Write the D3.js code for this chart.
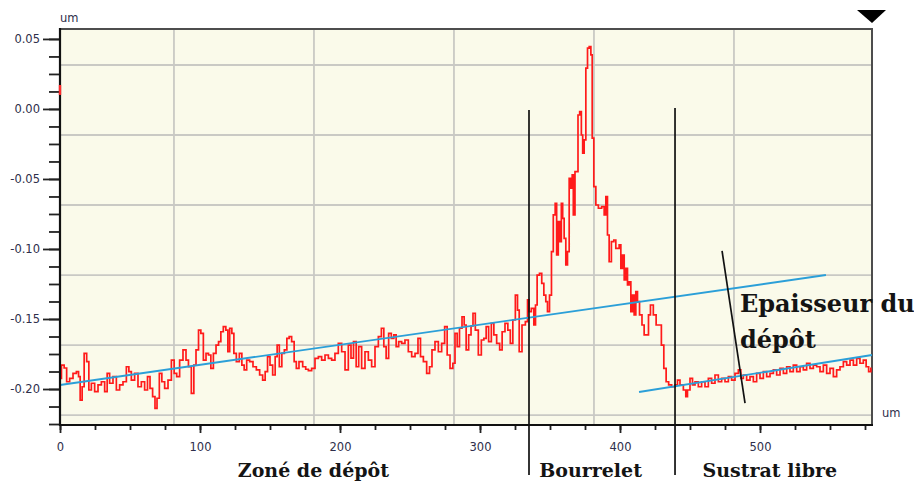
<!DOCTYPE html>
<html>
<head>
<meta charset="utf-8">
<script src="https://cdn.jsdelivr.net/npm/d3@7"></script>
<style>
  html, body { margin: 0; padding: 0; background: #ffffff; }
  svg { display: block; }
</style>
</head>
<body>
<svg id="chart" width="914" height="484"></svg>
<script>
// Surface profile across the deposit edge (positions in um, heights in um)
const profileUm = [
  0, 2.1, 3.8, 5.7, 8.1, 10.5, 12.9, 13.6, 15.2, 16.4, 18.1, 20.0, 21.2, 23.6, 25.9, 28.4,
  30.7, 33.1, 34.3, 36.6, 39.1, 41.4, 43.8, 46.2, 48.6, 49.8, 52.1, 54.5, 56.9, 59.3, 61.6,
  63.4, 65.2, 67.1, 68.6, 70.0, 71.9, 73.6, 75.9, 78.4, 80.7, 82.4, 84.3, 86.6, 89.1, 90.9,
  92.6, 95.0, 96.2, 98.1, 99.8, 101.4, 103.4, 105.2, 106.9, 108.6, 110.5, 112.4, 114.1,
  115.7, 117.6, 119.3, 120.5, 121.9, 123.6, 124.8, 127.1, 129.1, 130.7, 132.4, 134.3, 136.6,
  139.1, 141.4, 143.8, 145.7, 147.4, 149.1, 150.9, 152.9, 154.5, 155.7, 157.6, 159.3, 161.2,
  162.9, 164.5, 166.4, 168.1, 169.5, 171.9, 174.8,
  176.2, 178.6, 180.9, 183.4, 185.7, 188.1, 190.5, 192.9, 195.2, 197.6, 200.0, 202.4, 204.8,
  207.1, 208.6, 210.7, 212.4, 214.3, 216.6, 219.1, 221.4, 223.8, 226.2, 228.6, 230.5, 232.1,
  233.8, 235.7, 237.6, 239.3, 240.9, 242.9, 245.2, 247.6, 250.0, 252.4, 254.8, 256.6, 258.4,
  260.7, 263.1, 264.8, 266.6, 269.1, 271.4, 273.8, 275.7, 277.4, 279.8, 281.4, 282.9, 284.5,
  286.2, 288.1, 289.3, 290.9, 292.9, 294.3, 295.7, 297.6, 300.0, 301.9, 303.6, 305.2, 307.1,
  309.1, 310.7, 313.1, 315.0, 316.6, 319.1, 320.7, 322.6, 324.3, 326.2, 327.4,
  328.6, 331.4, 333.4, 334.5, 335.7, 337.6, 339.3, 340.0, 341.6, 343.4, 344.8, 346.4, 347.6,
  348.8, 350.5, 351.6, 353.1, 354.3, 355.2, 356.6, 357.6, 358.6, 359.5, 360.7, 361.9, 363.1,
  364.3, 365.5, 366.2, 367.1, 368.6, 369.5, 370.5, 371.9, 372.9, 373.8, 375.0, 376.2, 377.4,
  378.6, 379.8, 380.5, 382.1, 383.4, 385.7, 388.1, 389.3, 390.5, 391.6, 392.9, 394.8, 396.4,
  397.6, 398.8, 400.0, 401.2, 402.4, 403.6, 404.8, 405.9, 407.1, 408.4, 409.5, 410.7, 411.9,
  413.1, 414.8, 416.6, 417.9, 419.8, 420.9, 422.6, 425.0, 426.6, 428.6, 430.5, 432.1, 433.8,
  435.7, 438.1, 440.5,
  441.6, 444.1, 446.4, 447.6, 448.8, 451.2, 452.4, 454.8, 457.1, 459.5, 461.9, 464.3, 466.6,
  469.1, 471.4, 473.8, 476.2, 478.6, 480.9, 483.4, 485.7, 486.9, 489.3, 491.6, 494.1, 496.4,
  498.8, 501.2, 503.6, 505.9, 508.4, 510.7, 513.1, 515.5, 517.9, 520.2, 522.6, 525.0, 527.4,
  529.8, 532.1, 534.5, 536.9, 539.3, 541.6, 544.1, 546.4, 548.8, 551.2, 553.6, 555.9, 558.4,
  560.7, 563.1, 565.5, 567.9, 570.2, 572.6, 575.0, 576.6, 578.6, 579.8
];
const profileHeight = [
  -0.1924, -0.1829, -0.1850, -0.1948, -0.1924, -0.1888, -0.1876, -0.1912, -0.2079, -0.1984,
  -0.1745, -0.1805, -0.2007, -0.1959, -0.2019, -0.1971, -0.1948, -0.2019, -0.1888, -0.1959,
  -0.1912, -0.2007, -0.1971, -0.1948, -0.1841, -0.1876, -0.1936, -0.1888, -0.1984, -0.1948,
  -0.2007, -0.1912, -0.1995, -0.2055, -0.2138, -0.2066, -0.1888, -0.1948, -0.1995, -0.1936,
  -0.1793, -0.1888, -0.1912, -0.1793, -0.1721, -0.1793, -0.1841, -0.2031, -0.1829, -0.1721,
  -0.1579, -0.1602, -0.1793, -0.1745, -0.1757, -0.1852, -0.1745, -0.1686, -0.1662, -0.1591,
  -0.1555, -0.1579, -0.1734, -0.1566, -0.1602, -0.1745, -0.1805, -0.1745, -0.1829, -0.1864,
  -0.1793, -0.1805, -0.1841, -0.1864, -0.1900, -0.1936, -0.1876, -0.1769, -0.1829, -0.1900,
  -0.1769, -0.1686, -0.1841, -0.1745, -0.1721, -0.1638, -0.1626, -0.1662, -0.1805, -0.1852,
  -0.1805, -0.1841,
  -0.1859, -0.1869, -0.1852, -0.1781, -0.1769, -0.1793, -0.1757, -0.1781, -0.1793, -0.1745,
  -0.1674, -0.1734, -0.1864, -0.1686, -0.1779, -0.1662, -0.1841, -0.1698, -0.1852, -0.1734,
  -0.1793, -0.1841, -0.1698, -0.1626, -0.1566, -0.1698, -0.1781, -0.1602, -0.1638, -0.1614,
  -0.1698, -0.1662, -0.1674, -0.1650, -0.1734, -0.1769, -0.1745, -0.1638, -0.1769, -0.1805,
  -0.1888, -0.1841, -0.1721, -0.1662, -0.1734, -0.1674, -0.1555, -0.1757, -0.1852, -0.1816,
  -0.1602, -0.1698, -0.1566, -0.1484, -0.1543, -0.1721, -0.1614, -0.1550, -0.1459, -0.1579,
  -0.1757, -0.1650, -0.1638, -0.1555, -0.1662, -0.1531, -0.1614, -0.1674, -0.1721, -0.1591,
  -0.1531, -0.1579, -0.1674, -0.1507, -0.1329, -0.1436,
  -0.1734, -0.1543, -0.1519, -0.1364, -0.1448, -0.1424, -0.1543, -0.1400, -0.1186, -0.1174,
  -0.1245, -0.1329, -0.1376, -0.1448, -0.1329, -0.1019, -0.0757, -0.0674, -0.1043, -0.0805,
  -0.0948, -0.0674, -0.0781, -0.0924, -0.1114, -0.1019, -0.0495, -0.0566, -0.0471, -0.0757,
  -0.0448, -0.0448, -0.0043, -0.0019, -0.0186, -0.0316, -0.0221, 0.0291, 0.0434, 0.0445,
  0.0386, -0.0209, -0.0555, -0.0686, -0.0709, -0.0698, -0.0757, -0.0626, -0.0900, -0.1091,
  -0.0948, -0.0936, -0.0995, -0.0995, -0.0971, -0.1138, -0.1043, -0.1221, -0.1138, -0.1257,
  -0.1234, -0.1448, -0.1329, -0.1471, -0.1305, -0.1376, -0.1471, -0.1543, -0.1614, -0.1614,
  -0.1471, -0.1400, -0.1471, -0.1543, -0.1543, -0.1686, -0.1852, -0.1948, -0.1971, -0.1984,
  -0.1971,
  -0.1936, -0.1971, -0.2007, -0.2055, -0.2007, -0.1924, -0.1971, -0.1948, -0.1984, -0.1948,
  -0.1984, -0.1924, -0.1959, -0.1900, -0.1948, -0.1924, -0.1948, -0.1912, -0.1936, -0.1888,
  -0.1864, -0.1924, -0.1900, -0.1936, -0.1912, -0.1948, -0.1888, -0.1924, -0.1876, -0.1912,
  -0.1888, -0.1864, -0.1900, -0.1852, -0.1888, -0.1841, -0.1876, -0.1829, -0.1876, -0.1841,
  -0.1864, -0.1816, -0.1852, -0.1829, -0.1841, -0.1876, -0.1829, -0.1888, -0.1852, -0.1912,
  -0.1864, -0.1841, -0.1805, -0.1829, -0.1793, -0.1829, -0.1781, -0.1816, -0.1793, -0.1841,
  -0.1876, -0.1852
];

// Axis ticks
const xTicks = [0, 100, 200, 300, 400, 500];
const yTicks = [0.05, 0.00, -0.05, -0.10, -0.15, -0.20];
const xMinorStep = 25;
const yMinorStep = 0.0125;

// Grid positions of the instrument grid
const gridUm = [81.4, 181.4, 281.4, 381.4, 481.4];
const gridHeight = [0.0314, -0.0186, -0.0686, -0.1186, -0.1686, -0.2186];

// Reference lines fitted on the deposit and on the bare substrate
const depositFit = [[0, -0.1971], [547.1, -0.1186]];
const substrateFit = [[413.6, -0.2021], [580, -0.1757]];
// Thickness marker between both fits
const thicknessMarker = [[472.9, -0.1014], [489.3, -0.2100]];
// Zone boundaries (um) with their vertical extent (um)
const zoneBounds = [335.0, 439.3];
const zoneBoundTop = [-0.0007, 0.0007];
const zoneBoundBottom = -0.2614;
const zoneNames = ["Zoné de dépôt", "Bourrelet", "Sustrat libre"];
const zoneNameUm = [181, 379, 507];
// Cursor mark on the height axis
const cursorMark = [0.0100, 0.0171];

const svg = d3.select("#chart");
const x = d3.scaleLinear().domain([0, 580]).range([60, 872]);
const y = d3.scaleLinear().domain([-0.2257, 0.0571]).range([425, 29]);
const [x0, x1] = x.range();
const [yb, yt] = y.range();

// plot background
svg.append("rect")
  .attr("x", x0).attr("y", yt)
  .attr("width", x1 - x0).attr("height", yb - yt)
  .attr("fill", "#fafaea");

// grid
const grid = svg.append("g").attr("stroke", "#c9c9c4").attr("stroke-width", 1.8);
grid.selectAll("line.gx").data(gridUm).join("line")
  .attr("x1", d => x(d)).attr("x2", d => x(d))
  .attr("y1", yt).attr("y2", yb);
grid.selectAll("line.gy").data(gridHeight).join("line")
  .attr("x1", x0).attr("x2", x1)
  .attr("y1", d => y(d)).attr("y2", d => y(d));

// frame (top and right)
svg.append("path")
  .attr("d", `M${x0},${yt}H${x1}V${yb}`)
  .attr("fill", "none").attr("stroke", "#4d4d4d").attr("stroke-width", 2);

// profile trace, drawn as a stepped line like the instrument output
const line = d3.line()
  .curve(d3.curveStep)
  .x((d, i) => x(profileUm[i]))
  .y((d, i) => y(profileHeight[i]));
svg.append("path")
  .datum(profileHeight)
  .attr("d", line)
  .attr("fill", "none")
  .attr("stroke", "#ff1a1a")
  .attr("stroke-width", 1.7)
  .attr("stroke-linejoin", "miter");

// fitted reference lines
const segLine = d3.line().x(d => x(d[0])).y(d => y(d[1]));
[depositFit, substrateFit].forEach(seg => {
  svg.append("path").datum(seg).attr("d", segLine)
    .attr("fill", "none").attr("stroke", "#2b9fd8").attr("stroke-width", 1.9);
});

// zone boundaries
svg.selectAll("line.zone").data(zoneBounds).join("line")
  .attr("x1", d => x(d)).attr("x2", d => x(d))
  .attr("y1", (d, i) => y(zoneBoundTop[i])).attr("y2", y(zoneBoundBottom))
  .attr("stroke", "#111").attr("stroke-width", 1.7);

// thickness marker
svg.append("path").datum(thicknessMarker).attr("d", segLine)
  .attr("fill", "none").attr("stroke", "#111").attr("stroke-width", 1.7);

// axes
const labelColor = "#2e2e4a";
const tickFont = "DejaVu Sans, Verdana, sans-serif";

const yMinor = d3.range(-0.225, 0.0501, yMinorStep);
const xMinor = d3.range(0, 580.1, xMinorStep);

const gYMinor = svg.append("g").attr("transform", `translate(${x0},0)`)
  .call(d3.axisLeft(y).tickValues(yMinor).tickSize(11).tickFormat(""));
const gY = svg.append("g").attr("transform", `translate(${x0},0)`)
  .call(d3.axisLeft(y).tickValues(yTicks).tickSize(17).tickPadding(3)
    .tickFormat(d => d.toFixed(2)));
const gXMinor = svg.append("g").attr("transform", `translate(0,${yb})`)
  .call(d3.axisBottom(x).tickValues(xMinor).tickSize(5).tickFormat(""));
const gX = svg.append("g").attr("transform", `translate(0,${yb})`)
  .call(d3.axisBottom(x).tickValues(xTicks).tickSize(8).tickPadding(10)
    .tickFormat(d3.format("d")));

[gYMinor, gY, gXMinor, gX].forEach(g => {
  g.select(".domain").remove();
  g.selectAll(".tick line").attr("stroke", "#222").attr("stroke-width", 1.8);
  g.selectAll(".tick text")
    .attr("fill", labelColor)
    .style("font-family", tickFont)
    .style("font-size", "11.5px");
});

// axis lines
svg.append("line").attr("x1", x0).attr("x2", x0).attr("y1", yt - 1).attr("y2", yb + 1)
  .attr("stroke", "#111").attr("stroke-width", 2.2);
svg.append("line").attr("x1", x0).attr("x2", x1 + 1).attr("y1", yb).attr("y2", yb)
  .attr("stroke", "#111").attr("stroke-width", 2.2);

// cursor mark
svg.append("line")
  .attr("x1", x0).attr("x2", x0)
  .attr("y1", y(cursorMark[0])).attr("y2", y(cursorMark[1]))
  .attr("stroke", "#ff2a2a").attr("stroke-width", 2.4);

// unit labels
svg.append("text").attr("x", x0).attr("y", 22).text("um")
  .attr("fill", labelColor).style("font-family", tickFont).style("font-size", "11.5px");
svg.append("text").attr("x", x1 + 10).attr("y", yb - 8).text("um")
  .attr("fill", labelColor).style("font-family", tickFont).style("font-size", "11.5px");

// cursor triangle at top right
svg.append("path")
  .attr("d", `M${x1 - 15},10 L${x1 + 14},10 L${x1},23 Z`)
  .attr("fill", "#000");

// zone names
svg.selectAll("text.zone").data(zoneNames).join("text")
  .attr("class", "zone")
  .attr("x", (d, i) => x(zoneNameUm[i]))
  .attr("y", 477)
  .attr("text-anchor", "middle")
  .attr("fill", "#141414")
  .style("font-family", "DejaVu Serif, serif")
  .style("font-weight", "bold")
  .style("font-size", "19px")
  .text(d => d);

// thickness annotation
const note = svg.append("text")
  .attr("x", x(485.7))
  .attr("fill", "#141414")
  .style("font-family", "DejaVu Serif, serif")
  .style("font-weight", "bold")
  .style("font-size", "24px");
note.append("tspan").attr("x", x(485.7)).attr("y", 312).text("Epaisseur du");
note.append("tspan").attr("x", x(485.7)).attr("y", 348).text("dépôt");
</script>
</body>
</html>
